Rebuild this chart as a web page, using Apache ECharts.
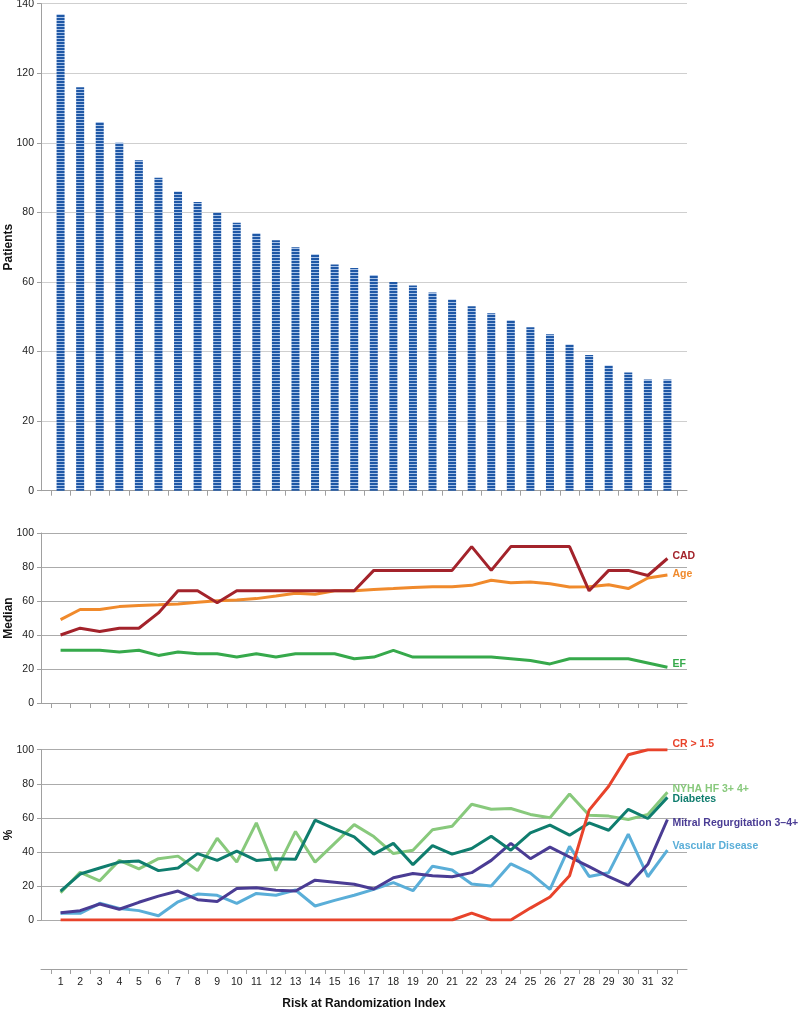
<!DOCTYPE html>
<html><head><meta charset="utf-8">
<script src="https://cdn.jsdelivr.net/npm/echarts@6/dist/echarts.min.js"></script>
<style>html,body{margin:0;padding:0;background:#fff}#c{width:800px;height:1012px}</style>
</head><body><div id="c"></div>
<script>
// ---- data ----
const riskIndex = [1,2,3,4,5,6,7,8,9,10,11,12,13,14,15,16,17,18,19,20,21,22,23,24,25,26,27,28,29,30,31,32];
const patients = [137,116,106,100,95,90,86,83,80,77,74,72,70,68,65,64,62,60,59,57,55,53,51,49,47,45,42,39,36,34,32,32];
const cad = [40,44,42,44,44,53,66,66,59,66,66,66,66,66,66,66,78,78,78,78,78,92,78,92,92,92,92,66,78,78,75,85];
const age = [49,55,55,56.7,57.4,57.8,58.3,59.3,60.2,60.6,61.4,62.9,64.5,64,66,66,66.7,67.3,68,68.4,68.4,69.2,72.2,70.8,71.2,70.2,68.2,68.4,69.6,67.3,73.5,75.3];
const ef = [31,31,31,30,31,28,30,29,29,27,29,27,29,29,29,26,27,31,27,27,27,27,27,26,25,23,26,26,26,26,23.5,21];
const crOver15 = [0,0,0,0,0,0,0,0,0,0,0,0,0,0,0,0,0,0,0,0,0,4,0,0,7,13.5,26,64.5,78.5,97,100,100];
const nyha = [16,28,23,35,30,36,37.5,29,48,34,57,29,52,34,45,56,49,39,41,53,55,68,65,65.5,62,60,74,61.5,61,59,62,75];
const diabetes = [17,27,30.5,34,34.6,29,30.5,39,35,40.5,35,36,35.7,58.6,53.5,48.8,38.7,45,32.5,43.7,38.7,42,49.2,41,51.2,55.7,49.8,57,52.7,65,59.6,72];
const mitral = [4.3,5.5,9.4,6.3,10.4,14,17,11.9,10.9,18.5,19,17.5,17,23.4,22.2,21,18.2,24.8,27.3,26,25.4,27.8,35,45,36,42.8,37,31.3,25.4,20.3,32.7,59];
const vascular = [3.9,3.9,9.8,6.8,5.5,2.5,10.7,15.2,14.5,9.8,15.6,14.5,17.6,8.2,11.5,14.5,18,21.9,17.2,31.6,29.4,21.1,20,33,27.5,18,43.2,25.6,27.8,50.4,25.4,41];

const pts = arr => riskIndex.map((x, i) => [x, arr[i]]);

// striped bar pattern
const pc = document.createElement('canvas');
pc.width = 8; pc.height = 3;
const pctx = pc.getContext('2d');
pctx.fillStyle = '#1f58a6'; pctx.fillRect(0, 0, 8, 2);
pctx.fillStyle = '#a9c3e8'; pctx.fillRect(0, 2, 8, 1);

const FONT = 'Liberation Sans, Arial, Helvetica, sans-serif';
const axisGray = '#a0a0a0';

function xAx(grid, showLabels) {
  return {
    type: 'value', gridIndex: grid, min: 0, max: 33, interval: 1,
    offset: showLabels ? 49 : 0,
    axisLine: { show: true, onZero: false, lineStyle: { color: axisGray, width: 1 } },
    axisTick: { show: false },
    minorTick: { show: true, splitNumber: 2, length: 5, lineStyle: { color: axisGray } },
    splitLine: { show: false }, minorSplitLine: { show: false },
    axisLabel: {
      show: showLabels, fontFamily: FONT, fontSize: 10.5, color: '#222', margin: 8,
      formatter: v => (v >= 1 && v <= 32) ? String(v) : ''
    },
    name: showLabels ? 'Risk at Randomization Index' : '',
    nameLocation: 'middle', nameGap: 29, nameMoveOverlap: false,
    nameTextStyle: { fontFamily: FONT, fontSize: 12, fontWeight: 'bold', color: '#111' }
  };
}
function yAx(grid, max, name, gridColor) {
  return {
    type: 'value', gridIndex: grid, min: 0, max: max, interval: 20,
    axisLine: { show: true, lineStyle: { color: axisGray, width: 1 } },
    axisTick: { show: true, length: 4, lineStyle: { color: axisGray } },
    splitLine: { show: true, lineStyle: { color: gridColor, width: 1 } },
    axisLabel: { fontFamily: FONT, fontSize: 10.5, color: '#222', margin: 7 },
    name: name, nameLocation: 'middle', nameGap: 26, nameMoveOverlap: false,
    nameTextStyle: { fontFamily: FONT, fontSize: 12, fontWeight: 'bold', color: '#111' }
  };
}
function line(name, data, color, grid, dy, labelColor) {
  return {
    type: 'line', name: name, data: pts(data), xAxisIndex: grid, yAxisIndex: grid,
    showSymbol: false, symbol: 'none',
    lineStyle: { color: color, width: 3 },
    itemStyle: { color: color },
    endLabel: {
      show: true, formatter: name, distance: 5, offset: [0, dy],
      fontFamily: FONT, fontSize: 10.5, fontWeight: 'bold', color: labelColor || color
    }
  };
}

const chart = echarts.init(document.getElementById('c'), null, { renderer: 'canvas' });
chart.setOption({
  animation: false,
  backgroundColor: '#fff',
  grid: [
    { left: 41, right: 113, top: 3.7, height: 487, outerBoundsMode: 'none' },
    { left: 41, right: 113, top: 533, height: 170, outerBoundsMode: 'none' },
    { left: 41, right: 113, top: 749.7, height: 170.3, outerBoundsMode: 'none' }
  ],
  xAxis: [xAx(0, false), xAx(1, false), xAx(2, true)],
  yAxis: [yAx(0, 140, 'Patients', '#cfcfcf'), yAx(1, 100, 'Median', '#ababab'), yAx(2, 100, '%', '#ababab')],
  series: [
    { type: 'bar', name: 'Patients', data: pts(patients), xAxisIndex: 0, yAxisIndex: 0,
      barWidth: 8, itemStyle: { color: { image: pc, repeat: 'repeat' } } },
    line('Age', age, '#f08a2c', 1, -1),
    line('EF', ef, '#36a94b', 1, -3),
    line('CAD', cad, '#a3232b', 1, -2.5),
    line('Vascular Disease', vascular, '#5aaed8', 2, -4),
    line('Mitral Regurgitation 3–4+', mitral, '#4a3c94', 2, 3.5),
    line('NYHA HF 3+ 4+', nyha, '#88c97c', 2, -3),
    line('Diabetes', diabetes, '#0f7d6e', 2, 2),
    line('CR > 1.5', crOver15, '#e8432b', 2, -6)
  ]
});
</script></body></html>
